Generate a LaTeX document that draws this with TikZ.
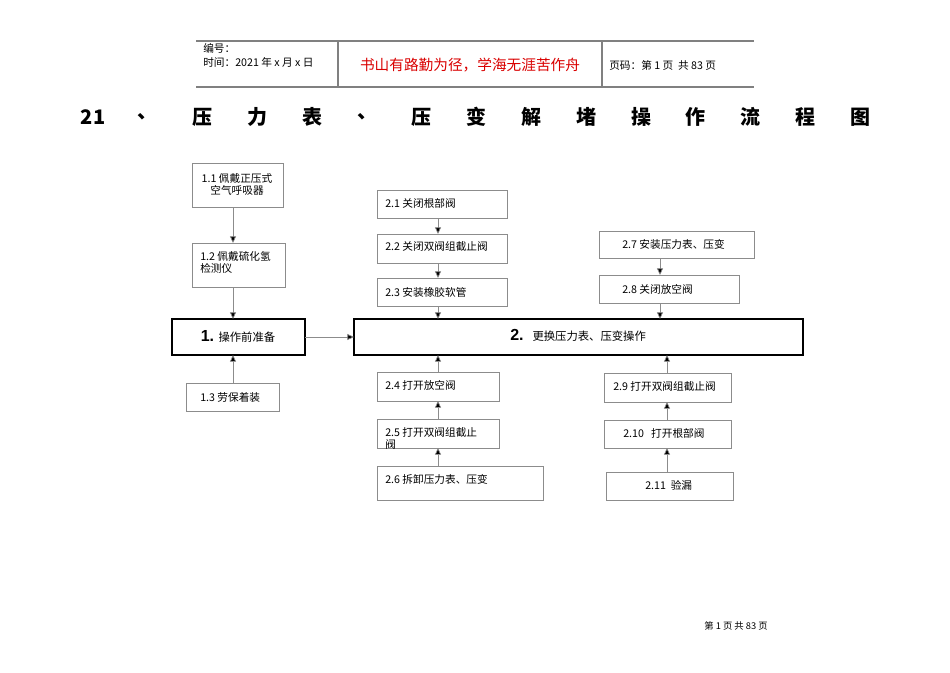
\documentclass[tikz,border=0pt]{standalone}
\usepackage{fontspec}
\setmainfont{Liberation Sans}
\newfontfamily\cjk{Noto Sans CJK SC}
\usetikzlibrary{arrows.meta}
\begin{document}
\begin{tikzpicture}[x=0.75pt,y=-0.75pt,
  bx/.style={draw=black!45,line width=0.5pt},
  bigbx/.style={draw=black,line width=1.6pt},
  lbl/.style={anchor=west,font=\cjk\fontsize{8}{9}\selectfont,inner sep=0pt,align=left},
  arr/.style={draw=black!45,line width=0.5pt,-{Triangle[length=5pt,width=4.5pt,fill=black]}}]
\useasboundingbox (0,0) rectangle (950,672);
% header
\draw[black!50,line width=0.8pt] (196,41) -- (754,41) (196,87) -- (754,87) (338,41) -- (338,87) (602,41) -- (602,87);
\node[lbl] (h1) at (203,48) {编号：};
\node[lbl] (h2) at (203,62) {时间：2021 年 x 月 x 日};
\node[anchor=center,font=\cjk\fontsize{11}{12}\selectfont,text=red!85!black] (h3) at (470,65) {书山有路勤为径，学海无涯苦作舟};
\node[lbl] (h4) at (609,65) {页码：第 1 页\ \ 共 83 页};
% title
\foreach \c [count=\i from 0] in {21,、,压,力,表,、,压,变,解,堵,操,作,流,程,图}{
  \node[font=\cjk\bfseries\fontsize{15}{16}\selectfont] (t\i) at ({93+\i*54.8},117) {\c};}
% boxes
\draw[bx] (192,163) rectangle (283,207); \node[lbl,anchor=center,align=center] (n11) at (237,184) {1.1 佩戴正压式\\空气呼吸器};
\coordinate (b11) at (233,207);
\draw[bx] (192,243) rectangle (285,287); \node[lbl] (n12) at (200,262) {1.2 佩戴硫化氢\\检测仪};
\coordinate (t12) at (233,243); \coordinate (b12) at (233,287);
\draw[bigbx] (172,319) rectangle (305,355);
\node[anchor=center,inner sep=0pt] (n1) at (238,336) {\fontsize{12}{12}\selectfont\bfseries 1.\ \cjk\fontsize{8.5}{9}\selectfont\mdseries 操作前准备};
\coordinate (t1) at (233,319); \coordinate (b1) at (233,355); \coordinate (r1) at (305,337);
\draw[bx] (186,383) rectangle (279,411); \node[lbl] (n13) at (200,397) {1.3 劳保着装};
\coordinate (t13) at (233,383);
\draw[bigbx] (354,319) rectangle (803,355);
\node[anchor=west,inner sep=0pt] (n2) at (510,335) {\fontsize{12}{12}\selectfont\bfseries 2.\ \ \cjk\fontsize{8.5}{9}\selectfont\mdseries 更换压力表、压变操作};
\coordinate (l2) at (354,337); \coordinate (t2a) at (438,319); \coordinate (b2a) at (438,355);
\coordinate (t2b) at (660,319); \coordinate (b2b) at (667,355);
\draw[bx] (377,190) rectangle (507,218); \node[lbl] (n21) at (385,203) {2.1 关闭根部阀};
\draw[bx] (377,234) rectangle (507,263); \node[lbl] (n22) at (385,246) {2.2 关闭双阀组截止阀};
\draw[bx] (377,278) rectangle (507,306); \node[lbl] (n23) at (385,292) {2.3 安装橡胶软管};
\draw[bx] (377,372) rectangle (499,401); \node[lbl] (n24) at (385,385) {2.4 打开放空阀};
\draw[bx] (377,419) rectangle (499,448); \node[lbl] (n25) at (385,438) {2.5 打开双阀组截止\\阀};
\draw[bx] (377,466) rectangle (543,500); \node[lbl] (n26) at (385,479) {2.6 拆卸压力表、压变};
\draw[bx] (599,231) rectangle (754,258); \node[lbl] (n27) at (622,244) {2.7 安装压力表、压变};
\draw[bx] (599,275) rectangle (739,303); \node[lbl] (n28) at (622,289) {2.8 关闭放空阀};
\draw[bx] (604,373) rectangle (731,402); \node[lbl] (n29) at (613,386) {2.9 打开双阀组截止阀};
\draw[bx] (604,420) rectangle (731,448); \node[lbl] (n210) at (623,433) {2.10\ \ \ 打开根部阀};
\draw[bx] (606,472) rectangle (733,500); \node[lbl] (n211) at (645,485) {2.11\ \ 验漏};
% connectors
\coordinate (c21b) at (438,218); \coordinate (c22t) at (438,234); \coordinate (c22b) at (438,263);
\coordinate (c23t) at (438,278); \coordinate (c23b) at (438,306);
\coordinate (c24t) at (438,372); \coordinate (c24b) at (438,401); \coordinate (c25t) at (438,419);
\coordinate (c25b) at (438,448); \coordinate (c26t) at (438,466);
\coordinate (c27b) at (660,258); \coordinate (c28t) at (660,275); \coordinate (c28b) at (660,303);
\coordinate (c29t) at (667,373); \coordinate (c29b) at (667,402); \coordinate (c210t) at (667,420);
\coordinate (c210b) at (667,448); \coordinate (c211t) at (667,472);
\draw[arr] (b11) -- (t12);
\draw[arr] (b12) -- (t1);
\draw[arr] (t13) -- (b1);
\draw[arr] (r1) -- (l2);
\draw[arr] (c21b) -- (c22t);
\draw[arr] (c22b) -- (c23t);
\draw[arr] (c23b) -- (t2a);
\draw[arr] (c24t) -- (b2a);
\draw[arr] (c25t) -- (c24b);
\draw[arr] (c26t) -- (c25b);
\draw[arr] (c27b) -- (c28t);
\draw[arr] (c28b) -- (t2b);
\draw[arr] (c29t) -- (b2b);
\draw[arr] (c210t) -- (c29b);
\draw[arr] (c211t) -- (c210b);
% footer
\node[font=\cjk\fontsize{7}{8}\selectfont] (ft) at (736,626) {第 1 页 共 83 页};
\end{tikzpicture}
\end{document}
